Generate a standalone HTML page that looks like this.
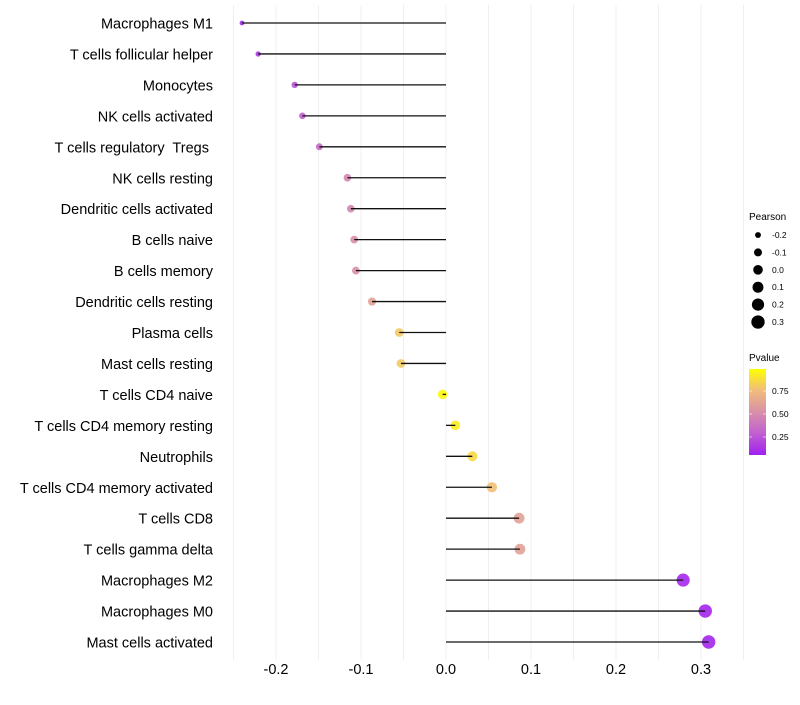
<!DOCTYPE html>
<html><head><meta charset="utf-8"><style>
body{margin:0;background:#fff}
svg{font-family:"Liberation Sans",sans-serif}
text{white-space:pre}
</style></head><body>
<svg id="chart" width="800" height="700">
<defs><linearGradient id="pgrad" x1="0" y1="1" x2="0" y2="0">
<stop offset="0" stop-color="#A020F0"/><stop offset="0.25" stop-color="#C060D0"/><stop offset="0.5" stop-color="#D990A8"/><stop offset="0.75" stop-color="#F0BC7C"/><stop offset="1" stop-color="#FFFF00"/>
</linearGradient></defs>
<g id="grid"></g>
<g id="marks"></g>
<g id="ylabels"></g>
<g id="xlabels"></g>
<g>
<text x="749" y="220" font-size="10">Pearson</text>
<g id="sizeleg"></g>
</g>
<g>
<text x="749" y="361" font-size="10">Pvalue</text>
<rect x="749" y="369" width="17" height="86" fill="url(#pgrad)"/>
<g id="colleg"></g>
</g>
</svg>
<script>
const cells=["Macrophages M1","T cells follicular helper","Monocytes","NK cells activated","T cells regulatory  Tregs ","NK cells resting","Dendritic cells activated","B cells naive","B cells memory","Dendritic cells resting","Plasma cells","Mast cells resting","T cells CD4 naive","T cells CD4 memory resting","Neutrophils","T cells CD4 memory activated","T cells CD8","T cells gamma delta","Macrophages M2","Macrophages M0","Mast cells activated"];
const pearson=[-0.240,-0.221,-0.178,-0.169,-0.149,-0.116,-0.112,-0.108,-0.106,-0.087,-0.055,-0.053,-0.004,0.011,0.031,0.054,0.086,0.087,0.279,0.305,0.309];
const pvalue=[0.05,0.1,0.2,0.25,0.3,0.45,0.45,0.5,0.5,0.6,0.8,0.8,0.97,0.93,0.86,0.76,0.6,0.6,0.03,0.02,0.02];
const xTicks=[-0.2,-0.1,0.0,0.1,0.2,0.3];
const xTickLabels=["-0.2","-0.1","0.0","0.1","0.2","0.3"];
const sizeLegendVals=[-0.2,-0.1,0.0,0.1,0.2,0.3];
const sizeLegendLabels=["-0.2","-0.1","0.0","0.1","0.2","0.3"];
const colorLegendVals=[0.25,0.5,0.75];
const colorLegendLabels=["0.25","0.50","0.75"];
const NS="http://www.w3.org/2000/svg";
const x=v=>446+v*850;
const y=i=>23+i*30.95;
const r=v=>Math.sqrt(Math.max(2.5,23+72*v));
const stops=[[0,[160,32,240]],[0.25,[192,96,208]],[0.5,[217,144,168]],[0.75,[240,188,124]],[1,[255,255,0]]];
function col(p){for(let k=0;k<stops.length-1;k++){const[a,ca]=stops[k],[b,cb]=stops[k+1];if(p<=b){const t=(p-a)/(b-a);return`rgb(${ca.map((c,j)=>Math.round(c+(cb[j]-c)*t)).join(',')})`;}}return'rgb(255,255,0)';}
function mk(t,a,parent){const e=document.createElementNS(NS,t);for(const k in a)e.setAttribute(k,a[k]);document.getElementById(parent).appendChild(e);return e;}
for(let v=-0.25;v<=0.351;v+=0.05){const g=mk('line',{x1:x(v),x2:x(v),y1:5,y2:660,stroke:'#efefef','stroke-width':Math.abs(Math.round(v*20))%2===0?0.8:1},'grid');

}
cells.forEach((c,i)=>{
const p=mk('circle',{cx:x(pearson[i]),cy:y(i),r:r(pearson[i]),fill:col(pvalue[i]),'fill-opacity':0.9},'marks');


const l=mk('line',{x1:x(0),x2:x(pearson[i]),y1:y(i),y2:y(i),stroke:'#111','stroke-width':1.3},'marks');


const t=mk('text',{x:213,y:y(i)+5.5,'text-anchor':'end','font-size':14.5,fill:'#000'},'ylabels');t.textContent=c;


});
xTicks.forEach((v,i)=>{const t=mk('text',{x:x(v),y:674,'text-anchor':'middle','font-size':14.5,fill:'#000'},'xlabels');t.textContent=xTickLabels[i];

});
sizeLegendVals.forEach((v,i)=>{const yy=235+i*17.4;
const c=mk('circle',{cx:758,cy:yy,r:r(v),fill:'#000'},'sizeleg');


const t=mk('text',{x:772,y:yy+3,'font-size':8.5},'sizeleg');t.textContent=sizeLegendLabels[i];

});
colorLegendVals.forEach((v,i)=>{const yy=460-v*92;
const l=mk('line',{x1:749,x2:752,y1:yy,y2:yy,stroke:'#fff','stroke-opacity':0.6},'colleg');
const l2=mk('line',{x1:763,x2:766,y1:yy,y2:yy,stroke:'#fff','stroke-opacity':0.6},'colleg');
const t=mk('text',{x:772,y:yy+3,'font-size':8.5},'colleg');t.textContent=colorLegendLabels[i];

});
</script>
</body></html>
